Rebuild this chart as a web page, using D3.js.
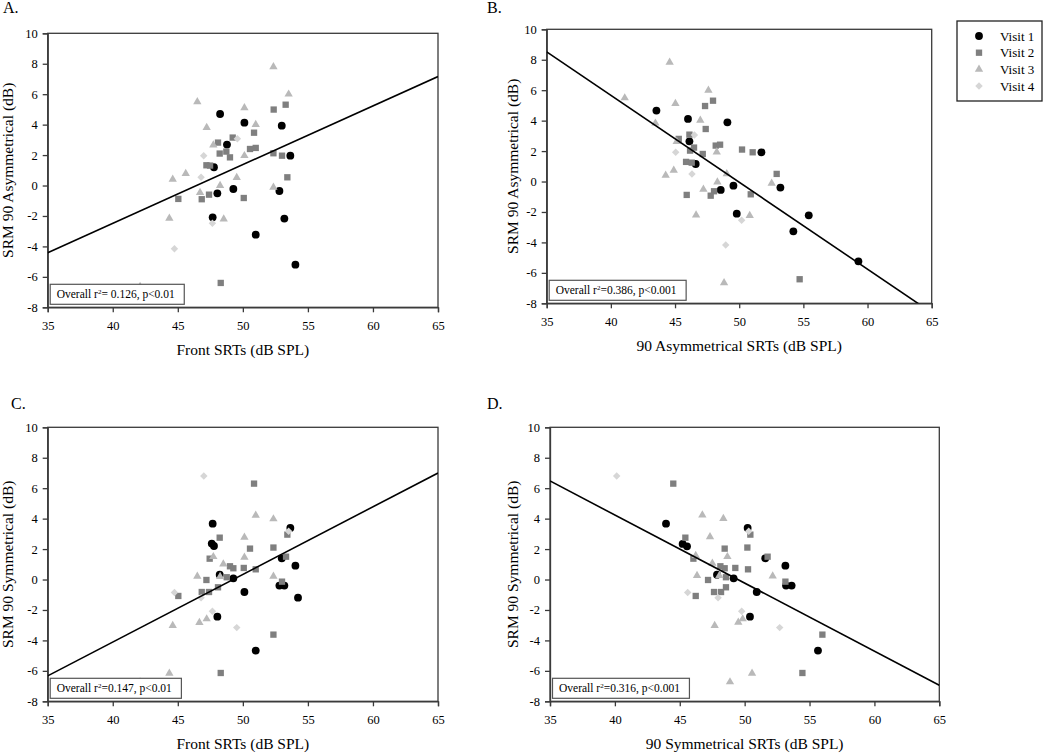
<!DOCTYPE html>
<html><head><meta charset="utf-8">
<script src="https://cdn.jsdelivr.net/npm/d3@7"></script>
<style>
html,body{margin:0;padding:0;background:#fff;}
svg text{font-family:"Liberation Serif","Times New Roman",serif;fill:#000;}
</style></head>
<body>
<svg id="chart" width="1050" height="753"></svg>
<script>
// ---------- data ----------
const visitNames = ["Visit 1", "Visit 2", "Visit 3", "Visit 4"];
const xTickValues = [35, 40, 45, 50, 55, 60, 65];
const yTickValues = [-8, -6, -4, -2, 0, 2, 4, 6, 8, 10];
const panelLetters = ["A.", "B.", "C.", "D."];
const xTitles = ["Front SRTs (dB SPL)", "90 Asymmetrical SRTs (dB SPL)", "Front SRTs (dB SPL)", "90 Symmetrical SRTs (dB SPL)"];
const yTitles = ["SRM 90 Asymmetrical (dB)", "SRM 90 Asymmetrical (dB)", "SRM 90 Symmetrical (dB)", "SRM 90 Symmetrical (dB)"];
const statR2 = ["= 0.126, p<0.01", "=0.386, p<0.001", "=0.147, p<0.01", "=0.316, p<0.001"];
// regression lines: [intercept, slope]
const fitA = [-17.93, 0.386];
const fitB = [28.50, -0.571];
const fitC = [-21.88, 0.4443];
const fitD = [22.13, -0.4473];

const A_visit1 = [[48.25,4.70],[50.12,4.13],[52.99,3.93],[48.78,2.69],[53.65,1.96],[47.78,1.20],[48.04,-0.51],[49.27,-0.23],[52.81,-0.36],[47.68,-2.09],[53.19,-2.17],[50.99,-3.23],[54.04,-5.20]];
const A_visit2 = [[52.37,4.99],[53.29,5.31],[50.86,3.47],[49.22,3.15],[48.09,2.82],[50.55,2.40],[50.99,2.47],[48.22,2.10],[48.73,2.23],[49.01,1.85],[52.35,2.12],[53.01,1.96],[47.20,1.33],[47.48,1.31],[53.42,0.54],[45.04,-0.88],[46.84,-0.90],[47.40,-0.60],[50.07,-0.82],[48.30,-6.40]];
const A_visit3 = [[52.35,7.8],[53.52,6.0],[46.50,5.5],[50.12,5.1],[47.22,3.8],[50.99,4.0],[47.73,2.66],[50.12,1.96],[45.61,0.78],[44.61,0.41],[49.53,0.52],[48.25,0.0],[46.71,-0.47],[52.35,-0.12],[44.35,-2.15],[48.53,-2.2],[42.10,-6.64]];
const A_visit4 = [[49.58,3.08],[46.99,1.96],[46.79,0.54],[47.66,-2.48],[44.74,-4.15]];

const B_visit1 = [[43.55,4.66],[46.01,4.11],[49.08,3.89],[46.12,2.64],[51.73,1.92],[46.61,1.15],[48.56,-0.55],[49.55,-0.27],[53.21,-0.40],[49.81,-2.11],[55.42,-2.22],[54.22,-3.27],[59.29,-5.24]];
const B_visit2 = [[45.29,2.80],[47.34,4.96],[47.96,5.31],[47.39,3.45],[46.12,3.08],[48.17,2.36],[48.51,2.42],[46.48,2.23],[46.17,2.03],[47.16,1.81],[50.22,2.10],[51.05,1.92],[45.86,1.29],[46.30,1.24],[52.92,0.50],[45.91,-0.88],[48.04,-0.64],[47.78,-0.93],[50.90,-0.84],[54.71,-6.42]];
const B_visit3 = [[44.58,7.83],[41.08,5.49],[45.03,5.12],[47.60,5.99],[46.97,4.02],[43.47,3.83],[45.13,2.62],[48.25,1.94],[44.27,0.41],[44.90,0.74],[49.03,0.50],[48.30,-0.03],[47.21,-0.51],[52.53,-0.12],[46.64,-2.20],[50.82,-2.24],[48.82,-6.66]];
const B_visit4 = [[46.51,3.06],[45.05,1.92],[46.32,0.50],[50.19,-2.55],[48.95,-4.17]];

const C_visit1 = [[47.68,3.67],[47.61,2.36],[47.78,2.20],[53.65,3.39],[48.22,0.32],[49.27,0.08],[50.12,-0.82],[52.99,1.39],[54.04,0.91],[52.81,-0.40],[53.19,-0.40],[54.24,-1.19],[48.04,-2.44],[50.99,-4.67]];
const C_visit2 = [[50.86,6.30],[48.22,2.75],[50.55,2.03],[52.35,2.10],[53.42,2.95],[53.32,1.50],[47.45,1.37],[49.01,0.87],[49.27,0.74],[50.07,0.76],[50.99,0.67],[48.76,0.15],[47.20,-0.03],[48.09,-0.51],[53.01,-0.14],[46.84,-0.82],[47.40,-0.82],[45.04,-1.08],[52.35,-3.62],[48.30,-6.14]];
const C_visit3 = [[50.99,4.22],[52.35,3.98],[50.12,2.77],[50.12,1.46],[47.73,1.50],[48.50,1.02],[46.50,0.21],[52.35,0.21],[48.25,0.19],[44.61,-3.03],[46.66,-2.83],[47.22,-2.59],[44.35,-6.16],[42.10,-6.73]];
const C_visit4 = [[47.0,6.80],[44.74,-0.86],[46.79,-1.19],[47.66,-2.09],[49.53,-3.16],[53.52,3.17]];

const D_visit1 = [[43.94,3.67],[45.22,2.34],[45.56,2.18],[50.23,3.39],[47.87,0.32],[49.15,0.08],[50.93,-0.82],[51.59,1.39],[53.14,0.91],[53.19,-0.40],[53.62,-0.40],[50.41,-2.44],[55.65,-4.67]];
const D_visit2 = [[44.50,6.30],[45.43,2.75],[48.46,2.03],[50.21,2.10],[50.44,2.95],[51.77,1.50],[46.05,1.37],[48.13,0.87],[48.46,0.74],[49.28,0.76],[50.26,0.67],[48.56,0.15],[47.18,-0.03],[48.56,-0.51],[53.14,-0.14],[47.64,-0.82],[48.18,-0.82],[46.23,-1.08],[55.99,-3.62],[54.45,-6.14]];
const D_visit3 = [[46.74,4.24],[48.36,4.00],[47.33,2.80],[48.67,1.50],[46.23,1.57],[47.51,1.07],[46.33,0.26],[52.16,0.23],[48.05,0.26],[47.69,-3.03],[49.51,-2.81],[49.85,-2.59],[50.57,-6.16],[48.87,-6.73]];
const D_visit4 = [[40.14,6.80],[45.61,-0.86],[47.95,-1.19],[49.77,-2.09],[52.70,-3.16],[50.31,3.17]];

// ---------- styling ----------
const visitColors = ["#000000", "#7f7f7f", "#b9b9b9", "#d6d6d6"];
const symbolTypes = [d3.symbolCircle, d3.symbolSquare, d3.symbolTriangle, d3.symbolSquare];
const symbolSizes = [48, 40, 30, 28];
const symbolRot = [0, 0, 0, 45];
const axisColor = "#3a3a3a";

const layouts = [
  {left: 47.7, right: 438, top: 33.3, bottom: 307.3, letterX: 3, letterY: 12.5, yTitleX: 8},
  {left: 546.7, right: 931.7, top: 29.3, bottom: 303.3, letterX: 487, letterY: 12.5, yTitleX: 513},
  {left: 47.7, right: 438, top: 427.3, bottom: 701.3, letterX: 11, letterY: 409, yTitleX: 8},
  {left: 550, right: 939.3, top: 427.3, bottom: 701.3, letterX: 487, letterY: 409, yTitleX: 513}
];
const panelData = [
  [A_visit1, A_visit2, A_visit3, A_visit4],
  [B_visit1, B_visit2, B_visit3, B_visit4],
  [C_visit1, C_visit2, C_visit3, C_visit4],
  [D_visit1, D_visit2, D_visit3, D_visit4]
];
const fits = [fitA, fitB, fitC, fitD];

const svg = d3.select("#chart");

layouts.forEach((L, i) => {
  const x = d3.scaleLinear().domain([35, 65]).range([L.left, L.right]);
  const y = d3.scaleLinear().domain([-8, 10]).range([L.bottom, L.top]);
  const g = svg.append("g");

  // panel letter
  g.append("text").attr("x", L.letterX).attr("y", L.letterY)
    .attr("font-size", 16).text(panelLetters[i]);

  // frame (top/right)
  g.append("rect").attr("x", L.left).attr("y", L.top)
    .attr("width", L.right - L.left).attr("height", L.bottom - L.top)
    .attr("fill", "none").attr("stroke", axisColor).attr("stroke-width", 1.3);

  // axes
  const xAxis = d3.axisBottom(x).tickValues(xTickValues).tickSize(5).tickPadding(5).tickFormat(d => String(d));
  const yAxis = d3.axisLeft(y).tickValues(yTickValues).tickSize(5).tickPadding(5).tickFormat(d => String(d));
  const gx = g.append("g").attr("transform", `translate(0,${L.bottom})`).call(xAxis);
  const gy = g.append("g").attr("transform", `translate(${L.left},0)`).call(yAxis);
  [gx, gy].forEach(a => {
    a.select(".domain").attr("stroke", axisColor).attr("stroke-width", 1.3);
    a.selectAll(".tick line").attr("stroke", axisColor).attr("stroke-width", 1.3);
    a.selectAll(".tick text").attr("font-size", 12.5).attr("font-family", "Liberation Serif, serif").attr("fill", "#000");
  });
  gx.selectAll(".tick text").attr("dy", "0.98em");

  // axis titles
  g.append("text").attr("x", (L.left + L.right) / 2).attr("y", L.bottom + 47.5)
    .attr("text-anchor", "middle").attr("font-size", 15.5).text(xTitles[i]);
  g.append("text").attr("transform", `translate(${L.yTitleX + 5},${(L.top + L.bottom) / 2}) rotate(-90)`)
    .attr("text-anchor", "middle").attr("font-size", 15.5).text(yTitles[i]);

  // clip
  const clipId = "clip" + i;
  svg.append("clipPath").attr("id", clipId).append("rect")
    .attr("x", L.left).attr("y", L.top).attr("width", L.right - L.left).attr("height", L.bottom - L.top);

  // points
  panelData[i].forEach((pts, v) => {
    const sym = d3.symbol().type(symbolTypes[v]).size(symbolSizes[v]);
    g.append("g").selectAll("path").data(pts).join("path")
      .attr("d", sym)
      .attr("transform", d => `translate(${x(d[0])},${y(d[1])}) rotate(${symbolRot[v]})`)
      .attr("fill", visitColors[v]);
  });

  // regression line
  const f = fits[i];
  const lineGen = d3.line().x(d => x(d)).y(d => y(f[0] + f[1] * d));
  g.append("path").datum([35, 65]).attr("d", lineGen)
    .attr("clip-path", `url(#${clipId})`)
    .attr("fill", "none").attr("stroke", "#000").attr("stroke-width", 1.6);

  // annotation box
  const ann = g.append("g");
  const boxRect = ann.append("rect").attr("fill", "#fff").attr("stroke", "#555").attr("stroke-width", 1.2);
  const t = ann.append("text").attr("x", L.left + 9).attr("y", L.bottom - 9.5).attr("font-size", 11.5);
  t.append("tspan").text("Overall r");
  t.append("tspan").attr("font-size", 7).attr("dy", -4).text("2");
  t.append("tspan").attr("dy", 4).text(statR2[i]);
  const w = t.node().getComputedTextLength();
  boxRect.attr("x", L.left + 2.5).attr("y", L.bottom - 23).attr("width", w + 16).attr("height", 20);
});

// legend
const lg = svg.append("g");
lg.append("rect").attr("x", 957).attr("y", 21).attr("width", 85).attr("height", 80)
  .attr("fill", "#fff").attr("stroke", "#222").attr("stroke-width", 1.3);
visitNames.forEach((name, v) => {
  const yy = 36 + v * 16.7;
  const sym = d3.symbol().type(symbolTypes[v]).size(symbolSizes[v]);
  lg.append("path").attr("d", sym).attr("transform", `translate(979,${yy}) rotate(${symbolRot[v]})`)
    .attr("fill", visitColors[v]);
  lg.append("text").attr("x", 1000).attr("y", yy + 4.5).attr("font-size", 13).text(name);
});
</script>
</body></html>
